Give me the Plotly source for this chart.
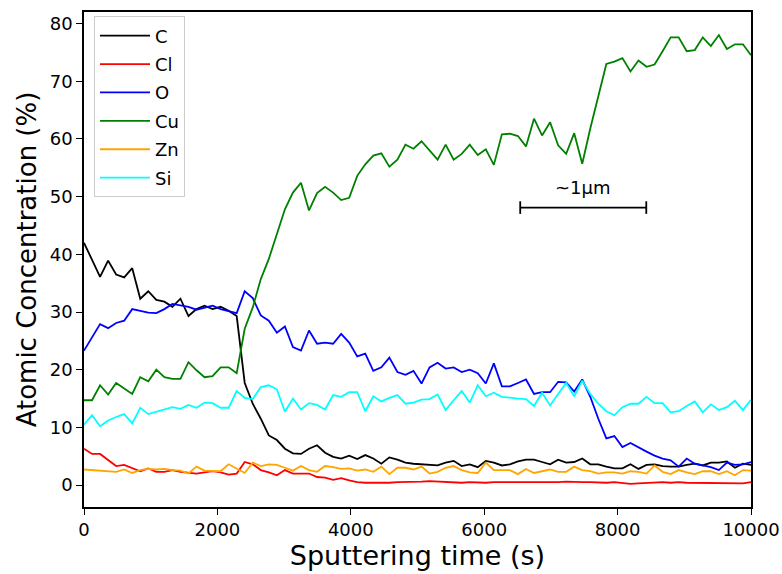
import numpy as np
import plotly.graph_objects as go

time_s = np.linspace(0, 10000, 84)

C = [42.0, 39.0, 36.1, 38.9, 36.5, 36.0, 37.6, 32.3, 33.6, 32.1, 31.8, 30.9, 32.3, 29.3, 30.5, 31.1, 30.5, 30.9, 30.2, 29.3,
     17.7, 14.1, 11.5, 8.6, 7.8, 6.3, 5.5, 5.4, 6.3, 6.9, 5.6, 4.9, 4.6, 5.1, 4.5, 5.2, 4.6, 3.7, 4.8, 4.4,
     3.9, 3.7, 3.6, 3.4, 3.4, 3.9, 4.2, 3.3, 3.6, 3.1, 4.2, 3.9, 3.4, 3.6, 4.1, 4.4, 4.4, 4.0, 3.6, 4.4,
     3.9, 4.0, 4.6, 3.6, 3.6, 3.2, 2.9, 2.9, 3.6, 2.8, 3.5, 3.6, 3.3, 3.2, 3.2, 3.5, 3.7, 3.4, 3.9, 3.9,
     4.1, 3.0, 3.7, 3.5]
Cl = [6.3, 5.4, 5.4, 4.3, 3.3, 3.5, 2.9, 2.4, 2.9, 2.3, 2.3, 2.6, 2.3, 2.1, 2.0, 2.2, 2.4, 2.2, 1.8, 2.0,
      4.0, 3.6, 2.6, 2.2, 1.7, 2.6, 2.0, 2.0, 2.0, 1.4, 1.3, 0.9, 1.2, 0.8, 0.5, 0.4, 0.4, 0.3, 0.4, 0.5,
      0.5, 0.5, 0.6, 0.7, 0.6, 0.5, 0.5, 0.4, 0.5, 0.4, 0.4, 0.5, 0.5, 0.4, 0.4, 0.5, 0.4, 0.4, 0.5, 0.5,
      0.6, 0.5, 0.5, 0.5, 0.4, 0.4, 0.5, 0.4, 0.2, 0.3, 0.4, 0.4, 0.5, 0.4, 0.5, 0.4, 0.4, 0.4, 0.4, 0.4,
      0.4, 0.3, 0.3, 0.5]
O = [23.3, 25.6, 27.9, 27.2, 28.1, 28.5, 30.5, 30.2, 29.9, 29.8, 30.5, 31.4, 31.1, 30.9, 30.4, 30.7, 31.1, 30.5, 30.2, 29.8,
     33.6, 32.4, 29.4, 28.5, 26.4, 27.5, 23.9, 23.3, 26.8, 24.5, 24.7, 24.5, 26.2, 24.7, 22.3, 22.8, 19.8, 20.4, 22.1, 19.6,
     19.1, 19.8, 17.6, 20.4, 21.2, 20.2, 20.4, 19.6, 20.0, 19.4, 17.6, 21.1, 17.1, 17.1, 17.7, 18.3, 15.8, 16.1, 16.1, 17.9,
     17.8, 16.2, 18.3, 15.3, 11.5, 8.1, 8.5, 6.6, 7.3, 6.5, 5.8, 5.1, 4.6, 4.3, 3.2, 4.6, 3.7, 3.4, 3.1, 2.6,
     3.9, 3.5, 3.6, 4.0]
Cu = [14.7, 14.7, 17.3, 15.7, 17.7, 16.7, 15.8, 18.7, 18.0, 20.0, 18.7, 18.4, 18.4, 21.3, 19.9, 18.7, 18.9, 20.4, 20.4, 19.4,
      27.1, 30.8, 35.7, 39.2, 43.5, 47.8, 50.7, 52.4, 47.6, 50.6, 51.7, 50.7, 49.4, 49.8, 53.6, 55.6, 57.1, 57.5, 55.2, 56.4,
      59.0, 58.3, 59.6, 58.0, 56.4, 59.0, 56.4, 57.4, 59.0, 57.2, 58.2, 55.5, 60.8, 60.9, 60.5, 58.7, 63.5, 60.6, 62.9, 58.9,
      57.4, 61.0, 55.7, 61.8, 67.5, 73.0, 73.4, 74.0, 71.7, 73.6, 72.5, 72.9, 75.2, 77.6, 77.6, 75.2, 75.4, 77.6, 76.1, 78.0,
      75.6, 76.4, 76.4, 74.5]
Zn = [2.7, 2.6, 2.6, 2.5, 2.3, 2.7, 2.1, 2.6, 2.8, 2.7, 2.8, 2.6, 2.5, 2.0, 3.2, 2.5, 2.5, 2.4, 3.6, 2.8,
      2.1, 3.9, 3.3, 3.6, 3.5, 3.0, 2.5, 3.3, 2.6, 2.3, 3.3, 3.1, 2.8, 2.9, 2.5, 2.7, 2.3, 3.2, 1.9, 3.0,
      3.0, 2.7, 3.2, 2.0, 2.3, 3.0, 3.3, 2.6, 2.2, 2.1, 3.9, 2.6, 2.6, 2.6, 1.9, 2.8, 2.1, 2.4, 2.7, 2.3,
      2.3, 3.2, 2.6, 2.4, 2.0, 2.2, 2.2, 2.0, 2.4, 2.3, 2.0, 3.4, 2.3, 1.9, 2.6, 2.2, 1.9, 2.4, 2.4, 1.9,
      2.4, 1.7, 2.6, 2.5]
Si = [10.5, 12.1, 10.2, 11.2, 11.8, 12.3, 10.7, 13.4, 12.3, 12.7, 13.2, 13.5, 13.2, 13.9, 13.4, 14.3, 14.2, 13.4, 13.4, 16.3,
      15.1, 14.9, 17.0, 17.3, 16.6, 12.7, 15.0, 13.1, 14.2, 13.9, 13.1, 15.6, 15.3, 16.1, 16.1, 12.8, 15.4, 14.5, 15.1, 15.6,
      14.1, 14.3, 14.8, 14.9, 15.7, 13.0, 14.7, 16.3, 14.3, 17.3, 15.4, 16.0, 15.3, 15.1, 15.0, 14.9, 13.7, 16.0, 13.8, 15.8,
      17.7, 15.4, 18.1, 15.8, 14.1, 12.8, 12.1, 13.5, 14.1, 14.1, 15.3, 14.2, 14.2, 12.6, 12.8, 13.7, 14.5, 12.6, 14.0, 13.0,
      13.5, 14.6, 13.0, 14.8]

series_names = ["C", "Cl", "O", "Cu", "Zn", "Si"]
series_values = [C, Cl, O, Cu, Zn, Si]
series_colors = ["#000000", "#ff0000", "#0000ff", "#008000", "#ffa500", "#00ffff"]

x_tick_vals = [0, 2000, 4000, 6000, 8000, 10000]
x_tick_text = ["0", "2000", "4000", "6000", "8000", "10000"]
y_tick_vals = [0, 10, 20, 30, 40, 50, 60, 70, 80]

scalebar_x = [6540, 8430]
scalebar_y = [48.1, 48.1]
scalebar_label = "~1\u03bcm"
scalebar_label_pos = (7480, 51.6)

fig = go.Figure()
for name, vals, col in zip(series_names, series_values, series_colors):
    fig.add_trace(go.Scatter(x=time_s, y=vals, mode="lines", name=name,
                             legendgroup=name,
                             line=dict(color=col, width=1.8)))

fig.add_trace(go.Scatter(x=scalebar_x, y=scalebar_y, mode="lines+markers",
                         showlegend=False, hoverinfo="skip",
                         line=dict(color="black", width=1.8),
                         marker=dict(symbol="line-ns-open", size=9,
                                     line=dict(color="black", width=1.8))))
fig.add_annotation(x=scalebar_label_pos[0], y=scalebar_label_pos[1], text=scalebar_label,
                   showarrow=False, font=dict(size=18, color="black"))

axis_common = dict(showline=True, linecolor="black", linewidth=1.5, mirror=True,
                   ticks="outside", ticklen=6, tickwidth=1.2, tickcolor="black",
                   showgrid=False, zeroline=False, automargin=False,
                   tickfont=dict(size=18, color="black"))

fig.update_layout(
    width=782, height=574,
    margin=dict(l=84, r=31, t=12, b=67),
    paper_bgcolor="white", plot_bgcolor="white",
    font=dict(family="DejaVu Sans", color="black"),
    xaxis=dict(range=[0, 10000], tickvals=x_tick_vals, ticktext=x_tick_text,
               title=dict(text="Sputtering time (s)", font=dict(size=27), standoff=4),
               **axis_common),
    yaxis=dict(range=[-3.8, 82.0], tickvals=y_tick_vals,
               title=dict(text="Atomic Concentration (%)", font=dict(size=26), standoff=6),
               **axis_common),
    legend=dict(x=0.015, y=0.991, xanchor="left", yanchor="top",
                bgcolor="rgba(255,255,255,0.8)", bordercolor="#cccccc", borderwidth=1,
                font=dict(size=18, color="black"), tracegroupgap=2, itemwidth=50),
)

fig.write_html("out.html")
